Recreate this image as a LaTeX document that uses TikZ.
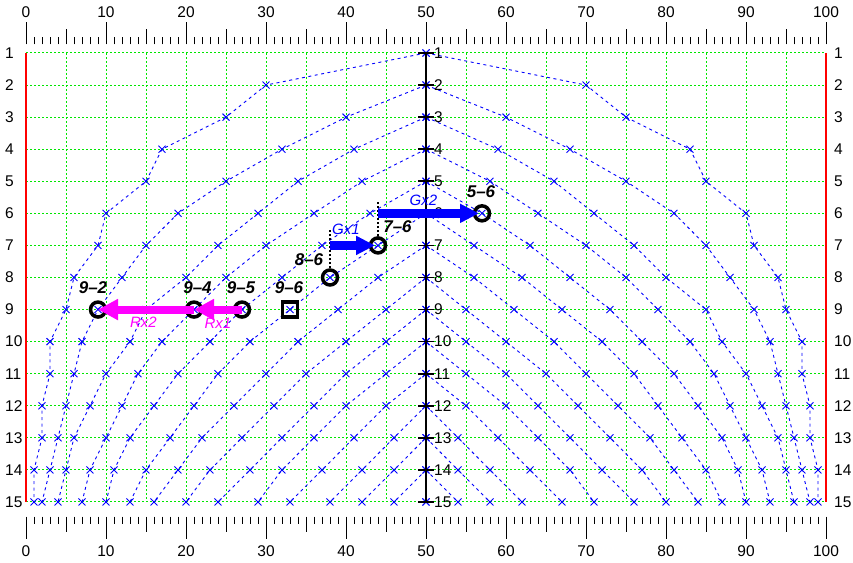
\documentclass[tikz,border=0pt]{standalone}
\usepackage{fontspec}
\setmainfont{Liberation Sans}
\setsansfont{Liberation Sans}
\usetikzlibrary{arrows.meta}
\definecolor{gridgreen}{RGB}{0,230,0}
\definecolor{plotblue}{RGB}{0,0,255}
\definecolor{arrowmag}{RGB}{255,0,255}
\definecolor{edgered}{RGB}{255,0,0}
\begin{document}
\begin{tikzpicture}[x=1bp,y=-1bp,
  gridline/.style={gridgreen,line width=1bp,dash pattern=on 2bp off 2bp},
  edgeline/.style={edgered,line width=2.2bp},
  tickline/.style={black,line width=1bp},
  axisline/.style={black,line width=1.6bp},
  curveline/.style={plotblue,line width=0.9bp,dash pattern=on 3bp off 3.5bp},
  xmk/.style={plotblue,line width=0.9bp},
  axlabel/.style={font=\fontsize{15.5bp}{17bp}\selectfont,inner sep=0pt},
  rowlabel/.style={font=\fontsize{15.5bp}{17bp}\selectfont,inner sep=0pt,anchor=west},
  ring/.style={circle,draw=black,line width=3.5bp,minimum size=15bp,inner sep=0pt},
  sq/.style={rectangle,draw=black,line width=3.5bp,minimum size=15bp,inner sep=0pt},
  ptlabel/.style={font=\fontsize{17bp}{19bp}\selectfont\bfseries\itshape,inner sep=0pt},
  arrlabel/.style={font=\fontsize{15bp}{17bp}\selectfont\itshape,inner sep=0pt},
  magarrow/.style={arrowmag,line width=8bp,-{Triangle[length=20bp,width=20bp]}},
  bluearrow/.style={plotblue,line width=9bp,-{Triangle[length=19bp,width=18bp]}},
  dotline/.style={black,line width=2bp,dash pattern=on 2bp off 2bp}
]
\useasboundingbox (0,0) rectangle (853,563);
\fill[white] (0,0) rectangle (853,563);

% green dotted grid
\foreach \r in {1,...,15}
  \draw[gridline] (26,{53+32.07*(\r-1)}) -- (826,{53+32.07*(\r-1)});
\foreach \X in {5,10,15,20,25,30,35,40,45,55,60,65,70,75,80,85,90,95}
  \draw[gridline] ({26+8*\X},53) -- ({26+8*\X},502);

% red edge lines
\draw[edgeline] (26,53) -- (26,502);
\draw[edgeline] (826,53) -- (826,502);

% blue curves and crosses
\foreach \k/\lst in {
  1/{50,30,25,17,15,10,9,6,5,3,3,2,2,1,1},
  2/{50,40,32,25,19,15,12,9,7,6,5,4,3,2},
  3/{50,41,34,29,24,20,15,13,10,8,6,5,4},
  4/{50,42,36,30,25,21,17,14,12,10,8,7},
  5/{50,43,37,32,27,23,19,16,13,11,10},
  6/{50,44,38,33,28,24,21,18,15,13},
  7/{50,44,39,34,30,26,22,19,16},
  8/{50,45,40,35,31,27,23,20},
  9/{50,45,40,36,32,28,24},
  10/{50,45,40,36,32,29},
  11/{50,45,41,37,33},
  12/{50,46,42,38},
  13/{50,46,42},
  14/{50,46},
  15/{50}}{
  \draw[curveline] (426,{53+32.07*(\k-1)})
     \foreach \X [count=\i] in \lst { -- ({26+8*\X},{53+32.07*(\k+\i-2)}) };
  \draw[curveline] (426,{53+32.07*(\k-1)})
     \foreach \X [count=\i] in \lst { -- ({826-8*\X},{53+32.07*(\k+\i-2)}) };
  \foreach \X [count=\i] in \lst {
    \draw[xmk] ({26+8*\X},{53+32.07*(\k+\i-2)}) +(-3.5,-3.5) -- +(3.5,3.5) +(-3.5,3.5) -- +(3.5,-3.5);
    \draw[xmk] ({826-8*\X},{53+32.07*(\k+\i-2)}) +(-3.5,-3.5) -- +(3.5,3.5) +(-3.5,3.5) -- +(3.5,-3.5);
  }
}

% centre axis with ticks and row numbers
\draw[axisline] (426,53) -- (426,502);
\foreach \r in {1,...,15}{
  \draw[axisline] (418,{53+32.07*(\r-1)}) -- (434,{53+32.07*(\r-1)});
  \node[rowlabel] (c\r) at (434,{53+32.07*(\r-1)}) {\r};
  \node[rowlabel] (l\r) at (5,{53+32.07*(\r-1)}) {\r};
  \node[rowlabel] (r\r) at (834,{53+32.07*(\r-1)}) {\r};
}

% top and bottom scales
\foreach \i in {0,...,100}{
  \pgfmathsetmacro\ticklen{ifthenelse(mod(\i,10)==0,22.6,ifthenelse(mod(\i,5)==0,15.3,7.6))}
  \draw[tickline] ({26+8*\i},44.3) -- ++(0,-\ticklen);
  \draw[tickline] ({26+8*\i},516.7) -- ++(0,\ticklen);
}
\foreach \i in {0,10,...,100}{
  \node[axlabel] (t\i) at ({26+8*\i},12) {\i};
  \node[axlabel] (b\i) at ({26+8*\i},551) {\i};
}

% marked points
\node[ring] (p92) at ({26+8*9},{53+32.07*8}) {};
\node[ring] (p94) at ({26+8*21},{53+32.07*8}) {};
\node[ring] (p95) at ({26+8*27},{53+32.07*8}) {};
\node[sq]   (p96) at ({26+8*33},{53+32.07*8}) {};
\node[ring] (p86) at ({26+8*38},{53+32.07*7}) {};
\node[ring] (p76) at ({26+8*44},{53+32.07*6}) {};
\node[ring] (p56) at ({26+8*57},{53+32.07*5}) {};

\node[ptlabel] (lab92) at ([shift={(-5,-22)}]p92.center) {9\textendash2};
\node[ptlabel] (lab94) at ([shift={(3.5,-22)}]p94.center) {9\textendash4};
\node[ptlabel] (lab95) at ([shift={(-1,-22)}]p95.center) {9\textendash5};
\node[ptlabel] (lab96) at ([shift={(-1,-22)}]p96.center) {9\textendash6};
\node[ptlabel] (lab86) at ([shift={(-21,-18)}]p86.center) {8\textendash6};
\node[ptlabel] (lab76) at ([shift={(19.5,-19)}]p76.center) {7\textendash6};
\node[ptlabel] (lab56) at ([shift={(-1,-22)}]p56.center) {5\textendash6};

% dotted construction lines
\coordinate (g1top) at ([shift={(0,-47)}]p86.center);
\coordinate (g2top) at ([shift={(0,-45)}]p76.center);
\coordinate (g1start) at (g1top |- p76.center);
\coordinate (g2start) at (g2top |- p56.center);
\draw[dotline] (p86.north) -- (g1top);
\draw[dotline] (p76.north) -- (g2top);

% arrows
\draw[magarrow] (p95.center) -- (p94.center);
\draw[magarrow] (p94.center) -- (p92.center);
\draw[bluearrow,shorten >=3bp] (g1start) -- (p76.center);
\draw[bluearrow,shorten >=3bp] (g2start) -- (p56.center);

\node[arrlabel,text=arrowmag] (rx1) at (218,323) {Rx1};
\node[arrlabel,text=arrowmag] (rx2) at (143.5,322) {Rx2};
\node[arrlabel,text=plotblue] (gx1) at (346,229) {Gx1};
\node[arrlabel,text=plotblue] (gx2) at (423.5,200) {Gx2};
\end{tikzpicture}
\end{document}
